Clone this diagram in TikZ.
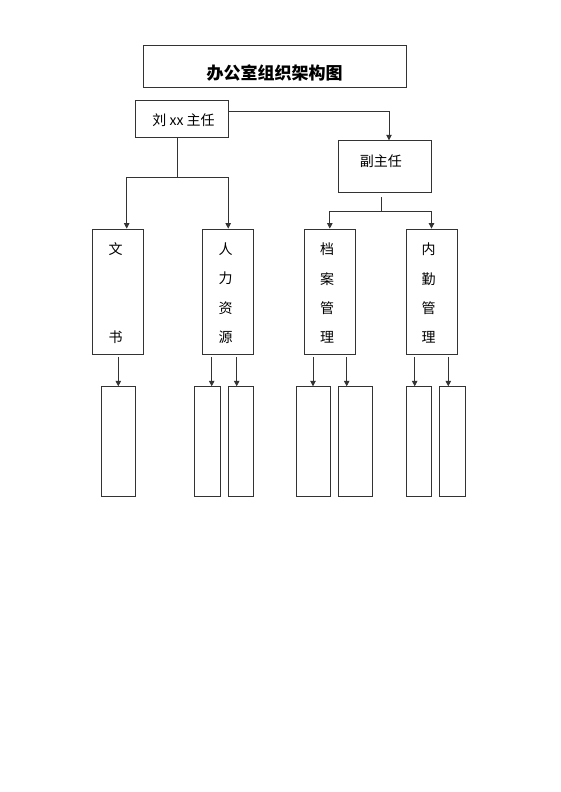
\documentclass[tikz,border=0pt]{standalone}
\usepackage{fontspec}
\setmainfont{Noto Sans CJK SC}
\usepackage{tikz}
\usetikzlibrary{arrows.meta}

\begin{document}
\begin{tikzpicture}[x=1pt,y=-1pt,
  box/.style={draw=black!80,line width=0.8pt,inner sep=0pt},
  lbl/.style={inner sep=0pt,align=center,font=\fontsize{14pt}{29.2pt}\selectfont},
  arr/.style={draw=black!80,line width=0.8pt,-{Triangle[length=5.5pt,width=5.5pt]}},
  link/.style={draw=black!80,line width=0.8pt}]
\useasboundingbox (0,0) rectangle (560,792);

\node[box,minimum width=262.7pt,minimum height=42.7pt] (title) at (274.7,66.3) {};
\node[lbl,font=\fontsize{17pt}{20pt}\selectfont\bfseries] (titlelbl) at (274.7,73) {办公室组织架构图};
\node[box,minimum width=93pt,minimum height=36.3pt] (dir) at (181.8,118.8) {};
\node[lbl] (dirlbl) at (183.5,120.5) {刘 xx 主任};
\node[box,minimum width=93.4pt,minimum height=51.6pt] (dep) at (385,166.5) {};
\node[lbl] (deplbl) at (380.9,161) {副主任};

\node[box,minimum width=51pt,minimum height=125pt] (wenshu) at (118.3,291.5) {};
\node[box,minimum width=51pt,minimum height=125pt] (renli) at (228.2,291.5) {};
\node[box,minimum width=51pt,minimum height=125pt] (dangan) at (329.8,291.5) {};
\node[box,minimum width=51pt,minimum height=125pt] (neiqin) at (431.5,291.5) {};
\node[lbl] (wenshulbl) at (115.7,293.2) {文\\[58.4pt]书};
\node[lbl] (renlilbl) at (225.6,293.2) {人\\力\\资\\源};
\node[lbl] (danganlbl) at (327.1,293.2) {档\\案\\管\\理};
\node[lbl] (neiqinlbl) at (428.6,293.2) {内\\勤\\管\\理};

\node[box,minimum width=34pt,minimum height=110pt] (w1) at (118.3,441.7) {};
\node[box,minimum width=25.7pt,minimum height=110pt] (r1) at (207.2,441.7) {};
\node[box,minimum width=25.4pt,minimum height=110pt] (r2) at (241,441.7) {};
\node[box,minimum width=34pt,minimum height=110pt] (d1) at (313,441.7) {};
\node[box,minimum width=34pt,minimum height=110pt] (d2) at (355.3,441.7) {};
\node[box,minimum width=25.7pt,minimum height=110pt] (n1) at (418.8,441.7) {};
\node[box,minimum width=26pt,minimum height=110pt] (n2) at (452.7,441.7) {};

\draw[arr] ([yshift=7.8pt]dir.east) -| ([xshift=4pt]dep.north);
\draw[link] ([xshift=-4pt]dir.south) -- ++(0,40) coordinate (dirfork);
\draw[arr] (dirfork) -| ([xshift=8.4pt]wenshu.north);
\draw[arr] (dirfork) -| (renli.north);
\draw[link] ([xshift=-4pt,yshift=-4.4pt]dep.south) -- ++(0,14) coordinate (depfork);
\draw[arr] (depfork) -| (dangan.north);
\draw[arr] (depfork) -| (neiqin.north);

\draw[arr] ([yshift=29.4pt]w1.north) -- (w1.north);
\draw[arr] ([xshift=4.5pt,yshift=29.4pt]r1.north) -- ([xshift=4.5pt]r1.north);
\draw[arr] ([xshift=-4.3pt,yshift=29.4pt]r2.north) -- ([xshift=-4.3pt]r2.north);
\draw[arr] ([yshift=29.4pt]d1.north) -- (d1.north);
\draw[arr] ([xshift=-8.6pt,yshift=29.4pt]d2.north) -- ([xshift=-8.6pt]d2.north);
\draw[arr] ([xshift=-4.1pt,yshift=29.4pt]n1.north) -- ([xshift=-4.1pt]n1.north);
\draw[arr] ([xshift=-4.4pt,yshift=29.4pt]n2.north) -- ([xshift=-4.4pt]n2.north);

\end{tikzpicture}
\end{document}
